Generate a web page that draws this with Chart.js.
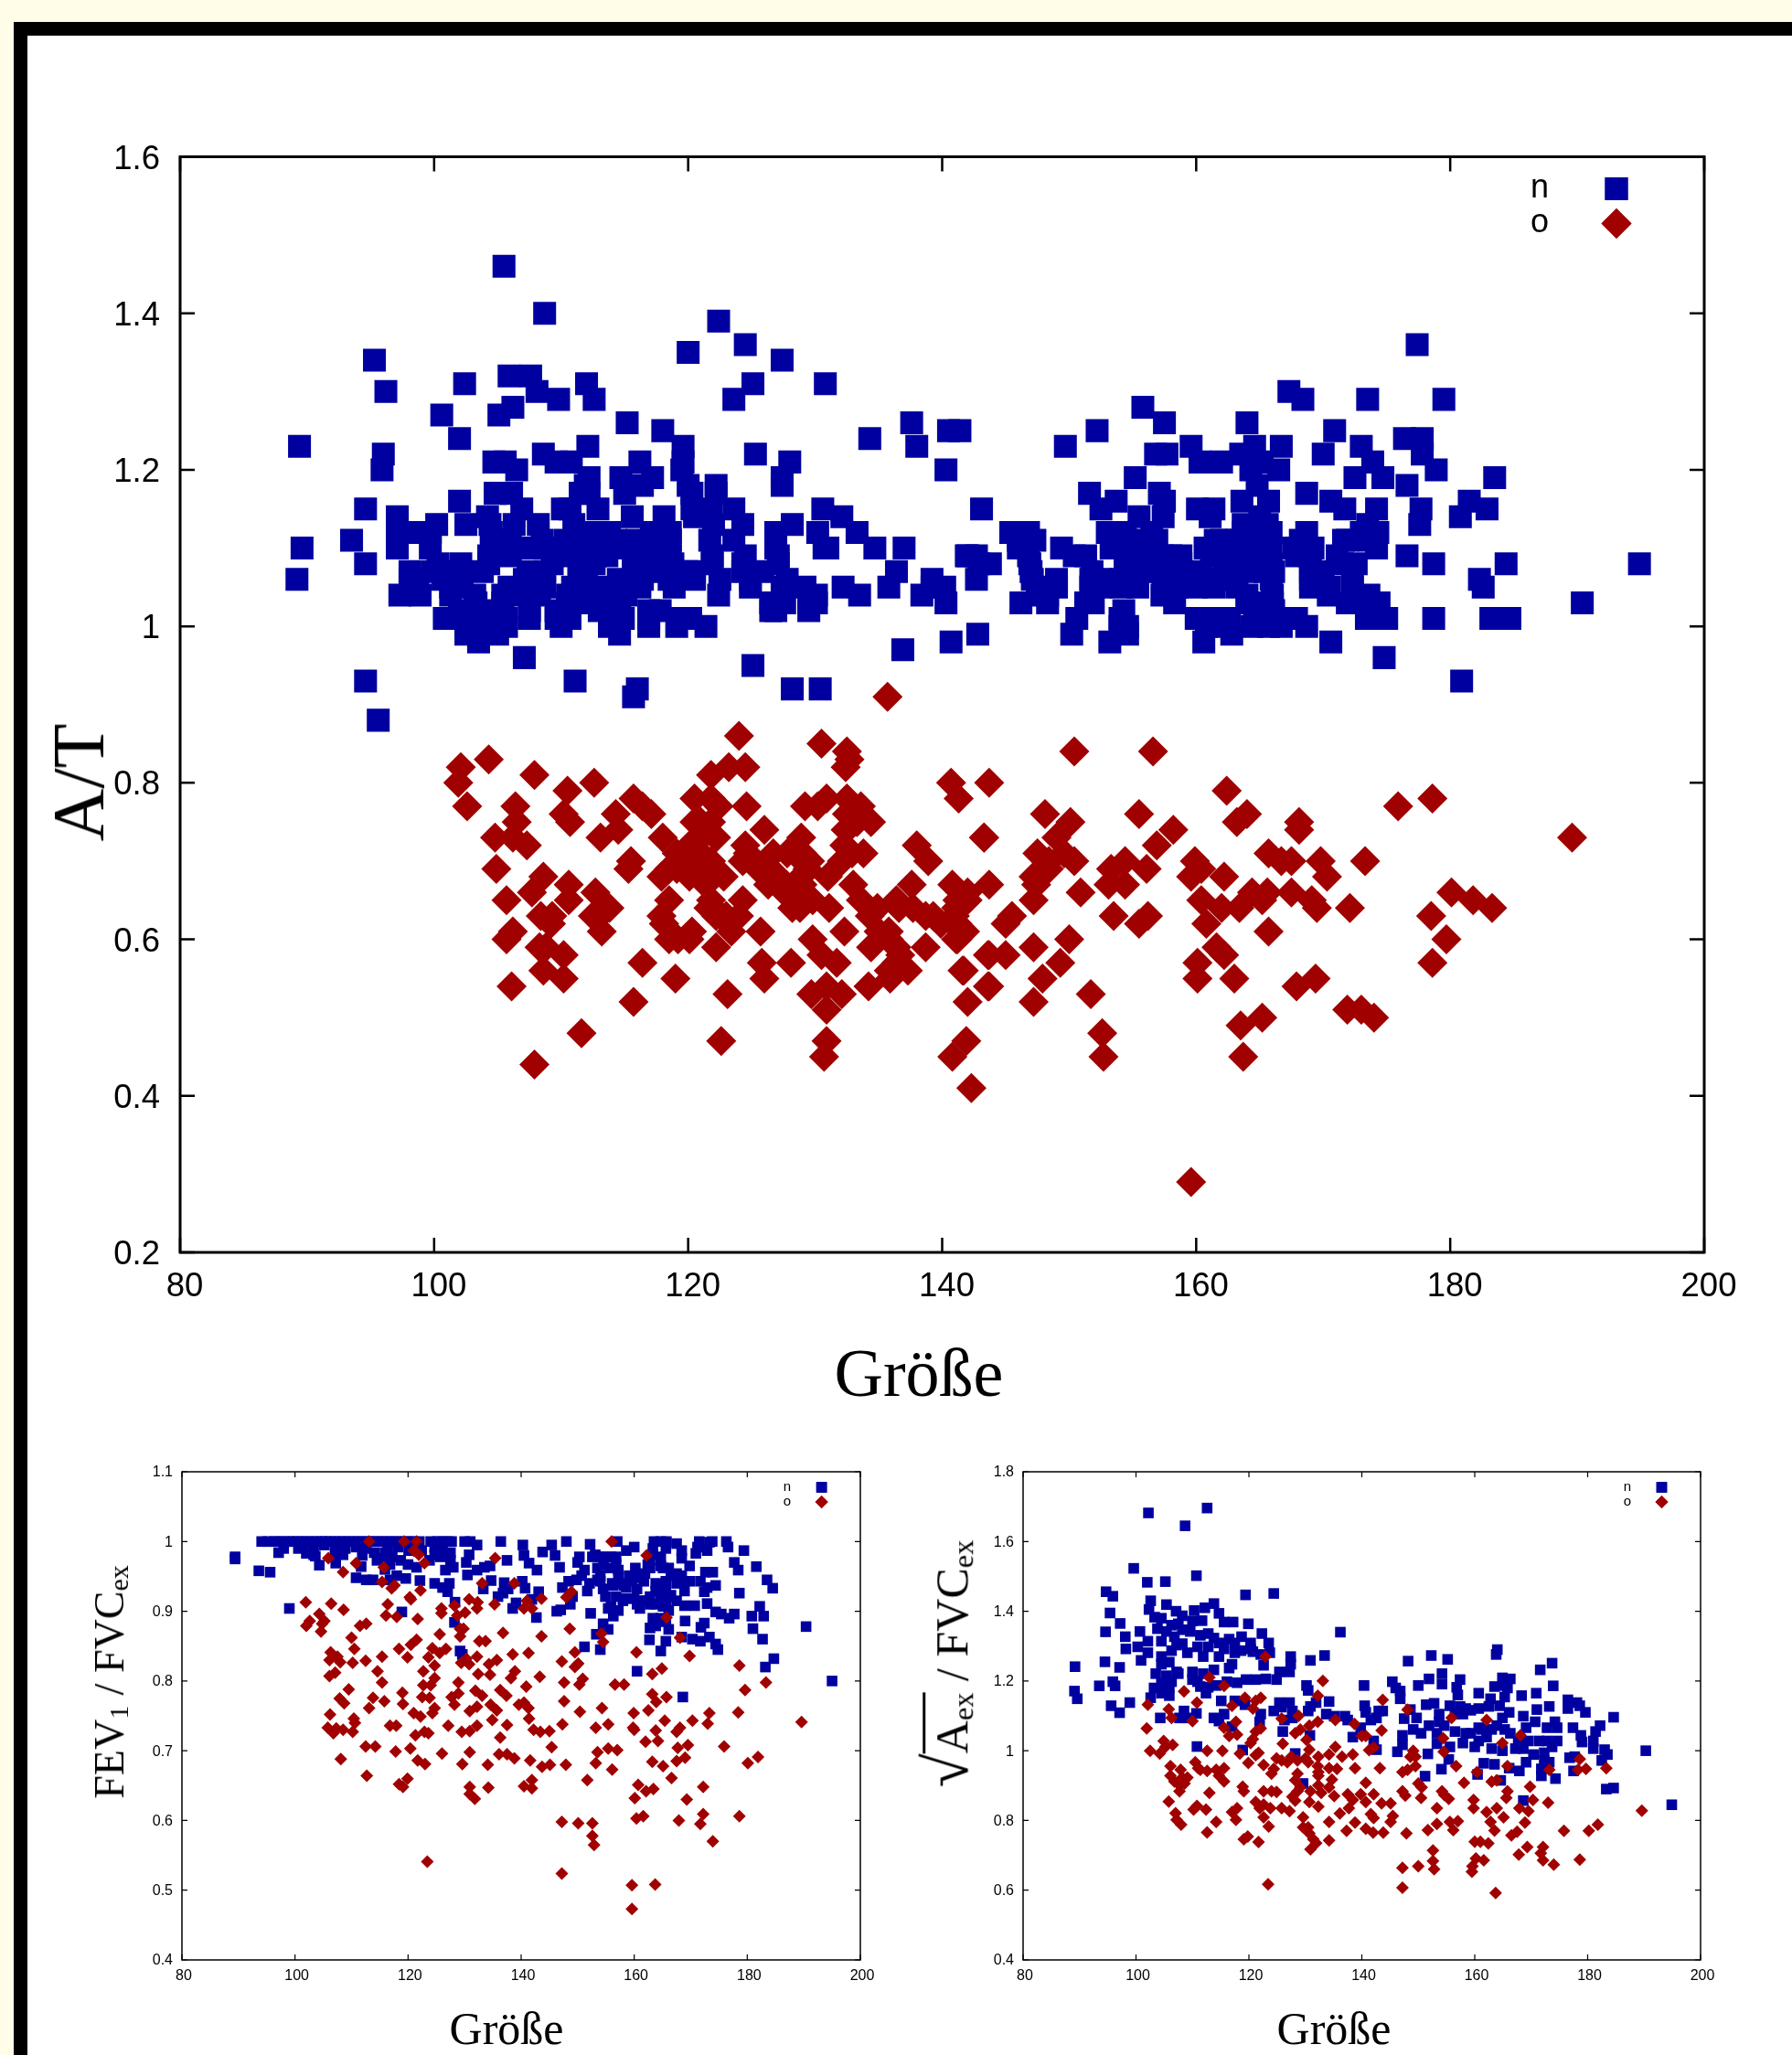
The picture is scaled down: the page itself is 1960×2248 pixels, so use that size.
<!DOCTYPE html>
<html lang="de">
<head>
<meta charset="UTF-8">
<title>Größe</title>
<script src="https://cdn.jsdelivr.net/npm/chart.js"></script>
<style>
    html, body { margin: 0; padding: 0; }
    body { width: 1960px; height: 2248px; position: relative; overflow: hidden; background: #fffce8; }
    .sheet { position: absolute; left: 15px; top: 24px; width: 2000px; height: 2300px; background: #fff;
             border-left: 15px solid #000; border-top: 15px solid #000; box-sizing: border-box; }
    canvas { position: absolute; }
    .ttl { position: absolute; font-family: "Liberation Serif", serif; color: #000; white-space: nowrap;
           transform: translate(-50%, -50%); line-height: 1; }
    .rot { transform: translate(-50%, -50%) rotate(-90deg); }
    .ttl sub { font-size: 65%; vertical-align: baseline; position: relative; top: 0.18em; }
    .radic { font-size: 135%; }
    .root { border-top: 3px solid #000; padding-top: 1px; }
</style>
</head>
<body>
<div class="sheet"></div>
<canvas id="mainChart" style="left:30px;top:40px"></canvas>
<canvas id="fevChart" style="left:140px;top:1560px"></canvas>
<canvas id="aexChart" style="left:1060px;top:1560px"></canvas>

<div class="ttl" style="left:1005px;top:1502px;font-size:74px">Größe</div>
<div class="ttl rot" style="left:86px;top:856px;font-size:80px">A/T</div>
<div class="ttl" style="left:554px;top:2219px;font-size:50px">Größe</div>
<div class="ttl rot" style="left:120px;top:1840px;font-size:46px">FEV<sub>1</sub> / FVC<sub>ex</sub></div>
<div class="ttl" style="left:1459px;top:2219px;font-size:50px">Größe</div>
<div class="ttl rot" style="left:1036px;top:1820px;font-size:50px"><span class="radic">√</span><span class="root">A<sub>ex</sub></span> / FVC<sub>ex</sub></div>

<script>
const xTicks = [80, 100, 120, 140, 160, 180, 200];
const atTicks = [0.2, 0.4, 0.6, 0.8, 1, 1.2, 1.4, 1.6];
const fevTicks = [0.4, 0.5, 0.6, 0.7, 0.8, 0.9, 1, 1.1];
const aexTicks = [0.4, 0.6, 0.8, 1, 1.2, 1.4, 1.6, 1.8];
const seriesNames = ['n', 'o'];

// A/T, series n
const atN = [[105.5,1.46],[108.7,1.40],[122.4,1.39],[124.5,1.36],[120,1.35],[127.4,1.34],[95.3,1.34],[96.2,1.30],[102.4,1.31],[105.9,1.32],[107.6,1.32],[108.1,1.30],[109.8,1.29],[112,1.31],[112.6,1.29],[125.1,1.31],[123.6,1.29],[130.8,1.31],[100.6,1.27],[106.2,1.28],[105.1,1.27],[115.2,1.26],[118,1.25],[137.6,1.26],[134.3,1.24],[140.5,1.25],[141.4,1.25],[138,1.23],[140.3,1.20],[89.4,1.23],[96,1.22],[95.9,1.20],[102,1.24],[104.7,1.21],[105.6,1.21],[106.5,1.20],[108.6,1.22],[109.6,1.21],[110.8,1.21],[112.1,1.23],[112.2,1.19],[116.2,1.21],[119.6,1.23],[119.6,1.21],[119.5,1.20],[125.3,1.22],[128,1.21],[127.4,1.19],[127.4,1.18],[114.7,1.19],[117.2,1.19],[116.4,1.18],[115,1.17],[120,1.18],[122.2,1.18],[120.3,1.17],[111.9,1.18],[111.5,1.17],[104.8,1.17],[106.1,1.17],[102,1.16],[94.6,1.15],[97.1,1.14],
[112.2,1.17],[122.2,1.17],[106.9,1.15],[110.1,1.15],[110.7,1.15],[112.9,1.15],[120.3,1.15],[121.8,1.15],[123.6,1.15],[130.6,1.15],[104.2,1.14],[115.6,1.14],[118.1,1.14],[120.5,1.14],[132.1,1.14],[100.2,1.13],[102.5,1.13],[104.4,1.13],[106.3,1.13],[108.2,1.13],[111,1.13],[122,1.13],[124.3,1.13],[128.2,1.13],[97.1,1.12],[98.8,1.12],[99.7,1.12],[104.5,1.12],[111.1,1.12],[113.8,1.12],[117.1,1.12],[118.6,1.12],[126.9,1.12],[130.2,1.12],[133.3,1.12],[93.5,1.11],[104.5,1.11],[106,1.11],[108.5,1.11],[110.3,1.11],[112.3,1.11],[114.3,1.11],[116,1.11],[118.6,1.11],[121.7,1.11],[123.6,1.11],[89.6,1.10],[97.1,1.10],[99.7,1.10],[126.9,1.10],[130.7,1.10],[131,1.10],[134.7,1.10],[137,1.10],[104.3,1.09],[106,1.09],[109.3,1.09],[110.7,1.09],[112.7,1.09],[113.6,1.09],[115.7,1.09],[118.6,1.09],[121.9,1.09],[124.5,1.09],[127.1,1.09],[142,1.09],[94.6,1.08],[100.3,1.08],[102.1,1.08],[104.3,1.08],[109.3,1.08],[111.4,1.08],[112.6,1.08],[115.7,1.08],[117.9,1.08],[118.8,1.08],[121.9,1.08],[124.3,1.08],[127.1,1.08],[98.1,1.07],[99.9,1.07],[101.9,1.07],[103.8,1.07],[107.4,1.07],[108.7,1.07],[111.4,1.07],[112,1.07],[115.7,1.07],[117.6,1.07],[120.5,1.07],[124.3,1.07],[125.9,1.07],[136.4,1.07],[89.2,1.06],[98.1,1.06],[98.7,1.06],[100.7,1.06],[102.2,1.06],[107.1,1.06],[108.7,1.06],[114.5,1.06],[116.4,1.06],[118.5,1.06],[120.5,1.06],[122.5,1.06],[124.9,1.06],[127.8,1.06],[139.2,1.06],[101.3,1.05],[102.2,1.05],[105.9,1.05],[108.7,1.05],[110.9,1.05],[113.1,1.05],[116.2,1.05],[118.9,1.05],[124.9,1.05],[127.4,1.05],[129.2,1.05],[132.2,1.05],[135.8,1.05],[139.2,1.05],[140.2,1.05],[97.3,1.04],[98.9,1.04],[101.3,1.04],[103.2,1.04],[105.4,1.04],[108.3,1.04],[110.5,1.04],[115.1,1.04],[122.4,1.04],[127.4,1.04],[130.1,1.04],[133.5,1.04],[138.4,1.04],[103.3,1.03],[105.4,1.03],[110.5,1.03],[114.6,1.03],[126.5,1.03],[127.6,1.03],[129.5,1.03],[130.1,1.03],[140.3,1.03],[102,1.02],[105.4,1.02],[107.5,1.02],[109.6,1.02],[110.7,1.02],[113,1.02],[114.6,1.02],[116.9,1.02],[117.8,1.02],[126.5,1.02],[126.9,1.02],[129.5,1.02],[100.8,1.01],[102.1,1.01],[103.9,1.01],[107.5,1.01],[109.6,1.01],[110.7,1.01],[113.8,1.01],[114.9,1.01],[116.9,1.01],[119.3,1.01],[120.2,1.01],[102.5,1.00],[105.7,1.00],[110,1.00],[113.8,1.00],[116.9,1.00],[119.1,1.00],[121.4,1.00],[102.5,0.99],[105,0.99],[114.6,0.99],[103.5,0.98],[140.7,0.98],[142.8,0.99],[107.1,0.96],[136.9,0.97],[125.1,0.95],[94.6,0.93],[111.1,0.93],[116,0.92],[115.7,0.91],[128.2,0.92],[130.4,0.92],[95.6,0.88],
[112.4,1.12],[117.3,1.11],[113.3,1.11],[117.1,1.09],[116.7,1.08],[119.9,1.07],[107.3,1.05],[114.6,1.05],[111.9,1.05],[106.9,1.04],[112,1.04],[113.5,1.04],[112,1.03],[113.2,1.03],[103.6,1.02],[105.7,1.01],[104,1.00],[105,1.10],[107.2,1.10],[108.8,1.10],[110.4,1.10],[112,1.10],[113.6,1.10],[115.2,1.10],[116.8,1.10],[118.4,1.10],
[177.4,1.36],[167.3,1.30],[168.4,1.29],[173.5,1.29],[179.5,1.29],[155.8,1.28],[157.5,1.26],[164,1.26],[152.2,1.25],[170.9,1.25],[149.7,1.23],[159.6,1.23],[156.8,1.22],[157.7,1.22],[170,1.22],[173,1.23],[164.6,1.23],[166.7,1.23],[163.5,1.22],[160.3,1.21],[162,1.21],[165.2,1.21],[164.3,1.20],[166.5,1.20],[178.9,1.20],[177.8,1.22],[176.4,1.24],[177.8,1.24],[173.9,1.21],[155.2,1.19],[172.5,1.19],[174.7,1.19],[183.5,1.19],[176.6,1.18],[164.8,1.18],[151.6,1.17],[153.7,1.16],[157.1,1.17],[157.5,1.16],[168.7,1.17],[170.6,1.16],[152.5,1.15],[160.1,1.15],[161.4,1.15],[163.6,1.16],[165.7,1.16],[171.7,1.15],[174.2,1.15],[177.7,1.15],[181.5,1.16],[182.9,1.15],[143.1,1.15],[155.5,1.14],[157.4,1.14],[161.1,1.14],[165,1.14],[180.8,1.14],[163.7,1.13],[165.6,1.13],[173.5,1.13],[177.6,1.13],[145.4,1.12],[146.8,1.12],[153,1.12],[154.4,1.12],[163.7,1.12],[165.9,1.12],[168.7,1.12],[173,1.12],[174.3,1.12],[146,1.11],[147.3,1.11],[161.5,1.11],[168.2,1.11],[171.6,1.11],[156.9,1.11],[154.5,1.11],[149.4,1.10],[160.7,1.10],[165.9,1.10],[167.7,1.10],[169.2,1.10],[174.2,1.10],[153.3,1.10],[146,1.10],[141.9,1.09],[176.6,1.09],[146.8,1.09],[150.4,1.09],[151.3,1.09],[154.5,1.09],[158.8,1.09],[171.1,1.09],[142.9,1.08],[143.8,1.08],[146.9,1.08],[178.7,1.08],[184.4,1.08],[194.9,1.08],[154.4,1.08],[158.8,1.08],[172.6,1.08],[162.8,1.08],[165.9,1.08],[169,1.08],[147,1.07],[151.8,1.07],[160.4,1.07],[166.1,1.07],[169,1.07],[170,1.07],[182.3,1.06],[142.7,1.06],[147.1,1.06],[149,1.06],[151.7,1.06],[155.4,1.06],[157.4,1.06],[159.6,1.06],[163,1.06],[165.9,1.06],[169,1.06],[172.3,1.06],[147.5,1.05],[149,1.05],[151.7,1.05],[155.4,1.05],[161.4,1.05],[163.2,1.05],[169,1.05],[170.5,1.05],[172.3,1.05],[182.6,1.05],[147.5,1.04],[148.3,1.04],[157.3,1.04],[164,1.04],[166,1.04],[170.4,1.04],[173.6,1.04],[146.2,1.03],[148.3,1.03],[151.3,1.03],[151.9,1.03],[158.3,1.03],[164,1.03],[166,1.03],[171.9,1.03],[174.4,1.03],[190.4,1.03],[154.3,1.02],[166.1,1.02],[150.6,1.01],[154,1.01],[160,1.01],[162.6,1.01],[164.6,1.01],[167.9,1.01],[173.4,1.01],[175,1.01],[178.7,1.01],[183.2,1.01],[184.7,1.01],[154,1.00],[154.6,1.00],[160.8,1.00],[165.7,1.00],[168.7,1.00],[150.2,0.99],[154.6,0.99],[162.8,0.99],[153.2,0.98],[160.6,0.98],[170.6,0.98],[174.8,0.96],[180.9,0.93],
[156.5,1.12],[164.8,1.12],[155.7,1.11],[162,1.11],[163.2,1.11],[164.4,1.11],[165.6,1.11],[171.9,1.11],[173.6,1.11],[142.7,1.09],[155.7,1.09],[157.3,1.09],[158,1.09],[161.2,1.09],[162.8,1.09],[164.4,1.09],[165.7,1.09],[167.9,1.09],[168.9,1.09],[155.7,1.08],[157.3,1.08],[164,1.08],[164.8,1.08],[171.5,1.08],[154.5,1.07],[155.9,1.07],[157.3,1.07],[158.8,1.07],[162.2,1.07],[164,1.07],[165.4,1.07],[152.5,1.06],[154.1,1.06],[157.7,1.06],[161.2,1.06],[162.2,1.06],[163.2,1.06],[152.5,1.05],[154.1,1.05],[158.5,1.05],[160,1.05],[165.2,1.03],[172.7,1.03],[161.4,1.01],[165.7,1.01],[166.7,1.01],[174.2,1.01],[161.6,1.00],[164.4,1.00],[166.7,1.00]];

// A/T, series o
const atO = [[124,0.86],[130.5,0.85],[104.3,0.83],[102.1,0.82],[101.9,0.80],[102.6,0.77],[107.9,0.81],[110.5,0.79],[112.6,0.80],[106.4,0.77],[106.5,0.75],[104.8,0.73],[106.2,0.73],[107.3,0.72],[110.2,0.76],[110.7,0.75],[115.7,0.78],[117.1,0.76],[116.4,0.77],[114.3,0.76],[114.5,0.74],[113.1,0.73],[121.8,0.81],[123.2,0.82],[124.5,0.82],[120.5,0.78],[121.8,0.78],[122.4,0.77],[124.6,0.77],[132.5,0.84],[132.7,0.83],[132.4,0.82],[129.2,0.77],[130.2,0.77],[130.9,0.78],[132.5,0.78],[133.6,0.77],[134.4,0.75],[132.5,0.76],[140.7,0.80],[141.3,0.78],[126,0.74],[128.9,0.73],[121,0.75],[121,0.73],[122.2,0.73],[118,0.73],[124.5,0.72],[132.4,0.74],[138,0.72],[138.9,0.70],[143.3,0.73],[104.9,0.69],[115.5,0.70],[115.3,0.69],[108.6,0.68],[107.7,0.66],[110.6,0.67],[110.6,0.65],[112.7,0.66],[113.8,0.64],[112.5,0.63],[113.2,0.61],[105.7,0.65],[106.2,0.61],[105.7,0.60],[117.9,0.68],[119.1,0.69],[120.1,0.68],[121.4,0.69],[122.8,0.68],[121.4,0.67],[124.3,0.70],[125.5,0.69],[127.1,0.68],[128.4,0.71],[129.4,0.69],[128.9,0.68],[127.6,0.66],[131,0.68],[128.2,0.64],[129.8,0.65],[131.1,0.64],[128.8,0.64],[133,0.67],[133.6,0.65],[134.3,0.63],[136.4,0.65],[137.6,0.67],[137.7,0.64],[139.3,0.63],[140.8,0.67],[142,0.66],[141,0.63],[141.2,0.60],[141.8,0.61],[118.5,0.65],[117.9,0.63],[118.1,0.62],[119.2,0.60],[120.3,0.61],[124.3,0.65],[121.6,0.64],[123,0.63],[123.4,0.61],[125.7,0.61],[122.2,0.59],[129.8,0.60],[130.5,0.58],[131.7,0.57],[132.3,0.61],[134.4,0.59],[135.8,0.61],[136.4,0.59],[137.3,0.56],[138.7,0.59],[135.9,0.55],[134.2,0.54],[132.1,0.53],[130.9,0.54],[129.7,0.53],[130.9,0.51],[141.6,0.56],[143.6,0.58],[142,0.52],[143.6,0.54],[125.8,0.57],[128.1,0.57],[126,0.55],[123.1,0.53],[116.4,0.57],[119,0.55],[115.7,0.52],[111.6,0.48],[122.6,0.47],[107.9,0.44],[130.9,0.47],[130.7,0.45],[141.9,0.47],[140.8,0.45],[142.3,0.41],[108.6,0.56],[110.2,0.55],[106.1,0.54],[110.2,0.58],[108.3,0.59],[109.2,0.62],[108.4,0.63],[135.7,0.91],[141.1,0.64],[141.5,0.61],[141.1,0.60],
[120.5,0.75],[120.1,0.72],[119.1,0.71],[121.8,0.75],[120.1,0.70],[121,0.71],[118.5,0.69],[121.8,0.70],[124.7,0.71],[125.7,0.69],[126.3,0.67],[127.6,0.67],[128.6,0.66],[127.8,0.71],[129,0.71],[129.6,0.70],[129,0.67],[126.7,0.71],[132.3,0.72],[133.3,0.75],[132.9,0.71],[132.1,0.70],[133.8,0.71],[132.5,0.74],[133.3,0.76],[134.9,0.64],[136.6,0.64],[138.7,0.63],[139.9,0.62],[141.2,0.62],[135.8,0.60],[136.7,0.58],[135,0.61],[136.4,0.57],[135.8,0.56],[121.8,0.65],[122.6,0.63],[122.2,0.63],[124,0.63],[118.1,0.62],[120.1,0.60],[118.5,0.60],[109.3,0.63],[108.8,0.59],[113.5,0.64],[113,0.63],[142,0.65],[141.2,0.65],
[150.4,0.84],[156.6,0.84],[143.7,0.80],[162.4,0.79],[164,0.76],[163.2,0.75],[175.9,0.77],[178.6,0.78],[148.1,0.76],[150.1,0.75],[155.5,0.76],[158.2,0.74],[156.9,0.72],[168.1,0.75],[168.1,0.74],[189.6,0.73],[143.3,0.73],[149,0.73],[147.5,0.71],[150.4,0.70],[148.4,0.70],[149.6,0.71],[147.2,0.68],[148.4,0.69],[147.4,0.67],[147.2,0.65],[150.9,0.66],[143.7,0.67],[153.3,0.69],[154.4,0.70],[154.4,0.67],[156.1,0.69],[153.1,0.67],[153.5,0.63],[156.2,0.63],[155.5,0.62],[159.9,0.70],[160.4,0.69],[159.6,0.68],[162.2,0.68],[160.4,0.65],[160.8,0.62],[162,0.64],[163.4,0.64],[164.4,0.66],[165.6,0.66],[165.2,0.65],[165.7,0.61],[167.5,0.66],[169.1,0.65],[169.5,0.64],[165.7,0.71],[166.7,0.70],[167.5,0.70],[169.8,0.70],[170.3,0.68],[173.3,0.70],[172.1,0.64],[180.1,0.66],[181.8,0.65],[183.3,0.64],[178.5,0.63],[179.7,0.60],[178.6,0.57],[161.6,0.59],[162.2,0.58],[160.1,0.57],[160.1,0.55],[163,0.55],[150,0.60],[147.2,0.59],[149.3,0.57],[147.9,0.55],[147.2,0.52],[143.7,0.54],[145,0.58],[143.7,0.58],[141.7,0.56],[151.7,0.53],[145,0.62],[145.5,0.63],[152.6,0.48],[152.7,0.45],[163.5,0.49],[165.2,0.50],[163.7,0.45],[167.9,0.54],[169.4,0.55],[171.9,0.51],[173,0.51],[174,0.50],[159.6,0.29]];

// FEV1 / FVCex, series n
const fevN = [[94.1,1],[95.2,1],[96.3,1],[97.1,1],[98,1],[98.9,1],[99.7,1],[100.5,1],[101.3,1],[102.2,1],[103,1],[103.9,1],[104.7,1],[105.4,1],[106.2,1],[107,1],[107.9,1],[108.6,1],[109.5,1],[110.3,1],[111.2,1],[112,1],[112.9,1],[113.8,1],[114.6,1],[115.5,1],[116.3,1],[117.2,1],[118,1],[119,1],[120,1],[120.9,1],[122,1],[124,1],[125.2,1],[126,1],[127,1],[127.7,1],[130,1],[131,1],[136.4,1],[140.3,0.995],[145.4,0.995],[148,1],[152.2,0.996],[157,1],[163.5,1],[164.7,1],[165.7,1],[167.5,0.997],[171.5,1],[173.8,1],[176.3,1],
[89.4,0.978],[89.4,0.975],[93.6,0.958],[95.6,0.956],[99,0.904],[97.1,0.984],[98,0.99],[100.6,0.99],[102,0.983],[104.3,0.966],[103.6,0.979],[107.2,0.969],[108.5,0.981],[110.8,0.948],[111.7,0.964],[111.9,0.98],[112.6,0.945],[113.8,0.945],[114.5,0.973],[115.9,0.984],[115.4,0.976],[117.2,0.978],[115.9,0.96],[118,0.951],[119.6,0.947],[116.8,0.945],[120,0.967],[121.5,0.963],[122.1,0.944],[124.7,0.94],[123.8,0.973],[124.7,0.981],[126.6,0.959],[128,0.963],[127.3,0.94],[126.1,0.934],[127,0.928],[128.3,0.913],[128.2,0.884],[129.2,0.843],[129.6,0.838],[118.9,0.899],[130.5,0.952],[130.8,0.981],[130.3,0.97],[132.2,0.995],[132.2,0.959],[133.5,0.963],[134.5,0.965],[134.7,0.944],[133.3,0.932],[135.9,0.921],[137,0.941],[137.7,0.932],[136.8,0.926],[137.5,0.973],[138.5,0.904],[139.1,0.912],[140.5,0.98],[140.2,0.943],[140.7,0.933],[141.4,0.969],[142.8,0.959],[141.9,0.917],[142.7,0.891],[143.1,0.928],[143.8,0.985],[146,0.98],[146.8,0.963],[147.3,0.934],[147,0.902],[146.3,0.9],[148.7,0.91],[149.1,0.921],[150,0.97],[150.3,0.978],[148.4,0.943],[149.8,0.945],[151.2,0.849],[151.2,0.959],[151.7,0.929],[152.3,0.897],[152.6,0.978],[153.1,0.981],[153.3,0.867],[154,0.845],[154.5,0.882],[155.4,0.874],[153.5,0.962],[154,0.943],[154.9,0.978],[155.4,0.962],[156.1,0.94],[156.8,0.967],[157.2,0.951],[154.9,0.921],[155.4,0.904],[156.3,0.893],[157.7,0.94],[158,0.915],[157.2,0.901],[158.6,0.987],[160,0.992],[160.2,0.962],[160.5,0.932],[160.5,0.91],[161,0.904],[158.6,0.934],[161.7,0.943],[162.8,0.962],[163.3,0.99],[162.8,0.973],[161.9,0.915],[162.8,0.921],[163.3,0.89],[162.8,0.876],[162.7,0.859],[164.7,0.843],[165.6,0.857],[166.1,0.874],[165.6,0.885],[165.6,0.915],[165.1,0.929],[165.6,0.943],[165.1,0.962],[164.7,0.978],[165.6,0.99],[166.1,0.921],[167.5,0.915],[166.5,0.951],[168.4,0.943],[168.9,0.929],[168.9,0.908],[169,0.886],[168.4,0.987],[168.4,0.976],[169.8,0.965],[168.4,0.863],[168.6,0.777],[160.5,0.814],[170.3,0.86],[171.7,0.857],[171.8,0.877],[172.4,0.883],[173.3,0.863],[174.4,0.853],[174.8,0.845],[170.7,0.908],[171.2,0.992],[170.9,0.983],[172.9,0.987],[173.3,0.999],[172.6,0.956],[173.9,0.956],[172.9,0.934],[174.4,0.937],[172.4,0.928],[172.9,0.911],[174.4,0.899],[175.4,0.896],[176.8,0.89],[177.7,0.896],[176.6,0.992],[177.7,0.97],[178.4,0.959],[178.6,0.926],[179.4,0.987],[181.6,0.964],[180.8,0.893],[181,0.875],[182.2,0.907],[182.9,0.893],[182.7,0.86],[183.2,0.82],[184.7,0.832],[183.5,0.945],[184.5,0.933],[190.4,0.878],[195,0.8],
[154,0.951],[158.2,0.937],[161.9,0.954],[160.5,0.948],[163.8,0.94],[163.8,0.929],[164.7,0.918],[165.1,0.907],[163.8,0.91],[166.5,0.923],[167.5,0.94],[169.8,0.943],[171.7,0.943],[156.8,0.921],[156.3,0.937],[158.2,0.918],[160,0.918],[161.4,0.915],[154.5,0.932],[153.5,0.945],[152.1,0.94],[150.7,0.951],[162.4,0.967],[165.6,0.934],[165.1,0.923],[166.1,0.901],[164.7,0.89],[163.8,0.879],[166.1,0.962],[167.5,0.954],[159.1,0.951],[159.6,0.943],[162.8,0.91],[155.9,0.907],[154,0.978],[155.9,0.978],[156.8,0.978],[154.6,0.967],[157.2,0.959],[163.3,0.981],[164.7,0.965],[168.4,0.951],
[101.5,0.992],[103.3,0.99],[105.2,0.995],[107.1,0.99],[108.9,0.99],[110.8,0.992],[112.6,0.99],[114,0.984],[116.4,0.99],[118.2,0.992],[120.1,0.987],[122.4,0.987],[124.7,0.992],[126.1,0.987],[127.5,0.984],[125.7,0.978],[127.5,0.973],[107.1,0.981],[103.3,0.981],[118.7,0.973],[116.8,0.967]];

// FEV1 / FVCex, series o
const fevO = [[113.1,1],[119.3,1],[121.5,1],[156,1],[105.9,0.976],[115.7,0.963],[110.8,0.969],[108.5,0.956],[121,0.987],[121.9,0.981],[122.9,0.969],[135.4,0.976],[162.2,0.98],[115.4,0.942],[117.6,0.937],[117.1,0.933],[122.2,0.93],[133.1,0.94],[138.8,0.94],[101.9,0.913],[106.4,0.911],[104.3,0.896],[108.6,0.902],[116.4,0.91],[120.3,0.92],[120.5,0.917],[130.8,0.917],[132.3,0.913],[128.2,0.908],[135.3,0.91],[143.6,0.918],[141,0.915],[140.5,0.904],[141.9,0.904],[148,0.92],[148.9,0.928],[125.9,0.904],[132.2,0.904],[125.9,0.897],[130.1,0.898],[128.7,0.894],[116.1,0.894],[118,0.892],[121.7,0.889],[105.2,0.886],[102,0.879],[102.6,0.886],[104.8,0.882],[104.6,0.871],[111.5,0.879],[112.6,0.882],[165.7,0.891],[129.2,0.875],[129.8,0.875],[125.6,0.867],[129.2,0.864],[148.6,0.875],[154.2,0.868],[143.6,0.864],[136.8,0.869],[132.6,0.857],[133.7,0.857],[110,0.862],[168.1,0.862],[154.5,0.856],[121.5,0.859],[120.5,0.852],[124.3,0.847],[110.5,0.846],[118.4,0.846],[126.7,0.846],[125.6,0.84],[123.6,0.834],[141.3,0.84],[138.5,0.838],[149.5,0.841],[160.4,0.841],[169.8,0.836],[106.3,0.841],[107.5,0.835],[106.1,0.83],[108,0.827],[115.4,0.835],[119.9,0.834],[110.2,0.826],[112.5,0.829],[130.3,0.832],[132.2,0.835],[129.4,0.826],[130.8,0.824],[135.7,0.83],[134.3,0.824],[147.2,0.828],[124.7,0.822],[150.1,0.825],[149.5,0.82],[178.6,0.822],[164.9,0.818],[163.2,0.81],[122.7,0.814],[114.6,0.814],[132.4,0.81],[134.5,0.809],[138.9,0.814],[107.1,0.812],[106.1,0.807],[143.3,0.806],[138.2,0.804],[150.9,0.803],[124.7,0.804],[115.4,0.798],[128.9,0.798],[147.6,0.798],[183.3,0.798],[150.3,0.795],[156.6,0.795],[158.2,0.795],[140.9,0.792],[122.7,0.794],[124,0.794],[109.5,0.788],[179.6,0.787],[136.3,0.787],[137.4,0.779],[131.9,0.786],[119,0.783],[128.9,0.782],[163.2,0.781],[133.1,0.779],[122.5,0.777],[127.7,0.777],[123.8,0.776],[107.9,0.775],[113.8,0.776],[165.7,0.777],[163.9,0.77],[108.7,0.768],[147.6,0.771],[115.8,0.771],[119.1,0.767],[128.2,0.766],[140.5,0.769],[139.6,0.766],[132.2,0.763],[134.6,0.766],[154.3,0.761],[113.1,0.761],[162.5,0.758],[135.7,0.758],[141.3,0.761],[130.9,0.757],[124.7,0.761],[121,0.754],[150.4,0.756],[159.9,0.754],[173.3,0.754],[178.4,0.755],[124.3,0.754],[106.2,0.752],[122.2,0.749],[141.4,0.746],[110.4,0.746],[134.9,0.744],[170.3,0.743],[165.4,0.743],[189.6,0.741],[147.3,0.738],[110.6,0.74],[155.4,0.738],[173,0.739],[105.8,0.733],[116.8,0.736],[117.9,0.736],[127.1,0.736],[132.2,0.736],[137.5,0.737],[153.2,0.733],[159.8,0.733],[160,0.73],[107.3,0.732],[108.5,0.73],[110.2,0.727],[106.8,0.725],[142.2,0.73],[145,0.728],[143.4,0.727],[163.8,0.729],[168.1,0.733],[167.5,0.727],[130.9,0.728],[129.5,0.727],[122.9,0.727],[123.6,0.725],[121.3,0.722],[162,0.713],[164.2,0.714],[136.3,0.719],[112.5,0.706],[114.2,0.706],[145.4,0.705],[175.9,0.706],[169.5,0.708],[167.7,0.704],[120.4,0.703],[155.4,0.703],[157,0.701],[153.5,0.698],[130.9,0.698],[117.8,0.699],[126,0.696],[136.1,0.695],[137.5,0.695],[138.8,0.689],[108.1,0.688],[169,0.69],[181.9,0.691],[167.5,0.685],[121.7,0.686],[141.6,0.686],[180.1,0.682],[163.2,0.684],[153.2,0.682],[129.6,0.681],[123,0.681],[134.1,0.68],[147.9,0.68],[145.1,0.68],[143.7,0.677],[165.1,0.678],[156.1,0.673],[166.6,0.661],[112.7,0.664],[151.7,0.658],[119.9,0.66],[160.7,0.651],[141.9,0.658],[118.4,0.652],[119.1,0.648],[130.9,0.648],[134.2,0.647],[140.5,0.649],[141.9,0.646],[163.4,0.645],[162.1,0.642],[172.2,0.648],[130.9,0.638],[131.8,0.631],[160.1,0.632],[169.3,0.63],[172.2,0.609],[178.6,0.606],[161.6,0.606],[160.4,0.603],[147.2,0.598],[150.1,0.596],[152.6,0.596],[167.9,0.6],[171.7,0.595],[152.6,0.578],[152.9,0.565],[173.9,0.57],[123.4,0.541],[147.2,0.524],[159.6,0.507],[163.7,0.508],[159.6,0.473]];

// sqrt(Aex) / FVCex, series n
const aexN = [[102.2,1.682],[112.6,1.696],[108.7,1.645],[99.6,1.523],[102,1.483],[105.2,1.485],[110.7,1.502],[94.7,1.456],[95.9,1.443],[119.4,1.447],[124.4,1.451],[95.4,1.395],[102.6,1.43],[102.3,1.405],[105.4,1.419],[113.8,1.422],[112.2,1.41],[110.3,1.402],[103.3,1.383],[104.5,1.38],[114.7,1.394],[107.1,1.4],[108.2,1.387],[97.2,1.365],[100.7,1.342],[94.6,1.341],[103.8,1.35],[106.3,1.36],[107.5,1.364],[110,1.372],[111.7,1.373],[115.6,1.369],[117.2,1.369],[119.9,1.364],[122.3,1.336],[136.2,1.34],[98.1,1.327],[102.1,1.314],[100.3,1.298],[98.2,1.292],[106.8,1.327],[109.6,1.342],[111.4,1.331],[113.8,1.323],[116.5,1.32],[118.7,1.327],[120.3,1.309],[123.5,1.309],[108.2,1.307],[110.9,1.298],[114.7,1.309],[115.6,1.292],[104.5,1.27],[102.1,1.281],[100.9,1.259],[106.3,1.287],[109.1,1.281],[111.9,1.27],[114.7,1.27],[117.5,1.281],[118.6,1.287],[120.7,1.284],[122.1,1.276],[123.7,1.281],[127.4,1.27],[130.9,1.259],[133.4,1.273],[104.5,1.248],[94.5,1.255],[97.1,1.239],[105.9,1.254],[113.8,1.232],[117,1.248],[116.5,1.237],[122.6,1.245],[127.4,1.248],[89.2,1.241],[103.5,1.221],[107.5,1.221],[110,1.226],[111.9,1.221],[127.2,1.226],[125.4,1.226],[95.9,1.198],[93.5,1.186],[96.3,1.186],[89.1,1.171],[89.6,1.149],[104.5,1.193],[106.3,1.198],[110,1.204],[116.1,1.198],[117.9,1.195],[119.5,1.204],[121.2,1.204],[123,1.206],[124.9,1.204],[103.2,1.18],[105.9,1.182],[111.4,1.184],[112.8,1.182],[112.4,1.165],[102.6,1.152],[105.9,1.158],[95.6,1.129],[97.1,1.109],[98.9,1.138],[104.3,1.094],[115.1,1.143],[117.5,1.143],[119.3,1.132],[110.7,1.107],[108.5,1.114],[107.7,1.094],[109.1,1.094],[113.8,1.094],[115.6,1.105],[114.7,1.085],[117,1.069],[122.1,1.105],[121.9,1.083],[124.4,1.114],[125.4,1.138],[127.2,1.138],[125.8,1.125],[127.7,1.114],[126.3,1.088],[127.7,1.094],[126,1.055],[130.9,1.127],[130.5,1.114],[131.9,1.138],[130.2,1.187],[130.5,1.173],[134.2,1.141],[133.7,1.105],[135.1,1.099],[137,1.099],[137.5,1.088],[130.8,1.044],[110.8,1.012],[118.9,1.002],[128.2,0.992],[129.6,0.906],[138.4,1.039],[139.8,1.066],[140.4,1.187],[140.5,1.129],[140.7,1.11],[141.6,1.088],[143,1.114],[143.7,1.114],[142.6,1.094],[142.1,1.028],[142.6,1.003],[145.4,1.198],[146,1.18],[146.8,1.171],[146.8,1.149],[148.2,1.257],[150,1.187],[151.9,1.206],[152.3,1.273],[155.2,1.262],[154.2,1.221],[154.2,1.191],[157.4,1.204],[156.8,1.182],[157,1.16],[148.6,1.118],[147.5,1.092],[149.7,1.094],[151.4,1.132],[152.8,1.136],[155.6,1.129],[153.7,1.105],[147.2,1.044],[147.2,1.017],[146.3,0.997],[149.1,1.061],[150.5,1.05],[151.9,1.072],[153.3,1.05],[154.6,1.072],[151.7,0.991],[153.3,1.02],[155.6,1.011],[155.4,0.975],[154.1,0.947],[151.2,0.927],[157.4,1.127],[157.9,1.105],[156.5,1.055],[158.4,1.05],[157.9,1.022],[160.7,1.165],[162.8,1.149],[163.5,1.184],[163.8,1.276],[164,1.29],[164.9,1.209],[166.3,1.206],[165.3,1.187],[165.3,1.154],[165.8,1.18],[168.3,1.158],[159.3,1.116],[160.7,1.121],[162.5,1.127],[164.4,1.129],[166.1,1.11],[160.7,1.066],[161.2,1.061],[160.7,1.028],[160,1.011],[163.9,1.072],[165.3,1.061],[166.3,1.05],[163,1.006],[161.6,0.964],[163.5,0.961],[164.9,1],[167.2,1.006],[166.1,0.95],[164.6,0.915],[160.5,0.932],[167.9,0.942],[168.6,1.099],[169.1,1.066],[169.5,1.028],[170.7,1.083],[171,1.118],[170.9,1.165],[171.6,1.232],[173.7,1.251],[173.9,1.186],[173.2,1.127],[168.6,1.006],[170.4,0.989],[169.1,0.967],[172.3,0.994],[172.8,1.066],[172.8,1.028],[174.2,1.083],[174.6,1.066],[174.6,1.028],[173.7,1.011],[171.8,0.948],[171.8,0.928],[173.2,0.967],[174.3,0.92],[168.6,0.857],[176.5,1.146],[176.5,1.121],[178.1,1.138],[178.6,1.129],[179.6,1.11],[177.4,1.066],[178.8,1.044],[179,1.025],[176.8,0.98],[177.7,0.983],[177.5,0.942],[181,1.028],[181,1.006],[181.4,1.055],[182.2,1.072],[183,1.003],[183.5,0.989],[182.5,0.972],[183.3,0.89],[184.6,0.893],[184.6,1.096],[190.3,1],[194.9,0.845],
[105.4,1.342],[108.2,1.347],[112.8,1.336],[104.5,1.314],[107.2,1.303],[112.8,1.298],[117.5,1.309],[120.3,1.292],[107.2,1.226],[105.4,1.215],[110.9,1.198],[114.2,1.187],[105.4,1.171],[104.5,1.165],[153.7,1.083],[158.4,1.121],[162.1,1.039],[167.7,1.028],[171.4,1.028],[164.9,1.094],[163,1.061],[172.3,0.972],[156.5,1.105],[159.3,1.05]];

// sqrt(Aex) / FVCex, series o
const aexO = [[122.9,1.27],[113,1.21],[133.1,1.2],[115.6,1.186],[108.5,1.17],[132.2,1.158],[119.3,1.152],[122.1,1.152],[121.2,1.143],[120.7,1.121],[110.8,1.138],[102.1,1.132],[143.7,1.146],[148.1,1.118],[105.8,1.119],[117,1.129],[155.9,1.094],[162.1,1.088],[125.8,1.092],[128.8,1.1],[106.3,1.094],[110,1.085],[117.7,1.083],[135.3,1.088],[132.2,1.083],[138.7,1.077],[101.9,1.064],[115.6,1.066],[122.1,1.064],[143.5,1.058],[121.2,1.055],[117.9,1.046],[128.2,1.05],[129.1,1.061],[130.7,1.072],[116.5,1.042],[120.7,1.033],[120.3,1.022],[130.2,1.031],[140.7,1.042],[140,1.042],[168.1,1.044],[154.4,1.036],[104.9,1.028],[164.9,1.022],[106.5,1.017],[105.2,1.011],[126,1.02],[142.1,1.009],[141.3,1.002],[135.3,1.011],[130.7,1.003],[102.5,1],[112.6,1],[115.3,1],[154.5,0.997],[104.2,0.992],[121.7,0.994],[118.4,0.992],[121.2,0.987],[149.1,1],[148.6,0.983],[149.5,0.983],[178.6,0.976],[134.2,0.989],[132.3,0.983],[136.5,0.983],[138.4,0.989],[130,0.978],[124.9,0.978],[127.5,0.983],[128.6,0.972],[126.8,0.967],[125.8,0.972],[130.5,0.967],[119.9,0.965],[122.6,0.959],[110.5,0.967],[111,0.95],[106.1,0.956],[156.7,0.956],[165.8,0.956],[115.6,0.95],[132.2,0.956],[149.5,0.956],[160.4,0.939],[173.2,0.945],[178.3,0.945],[179.7,0.948],[183.3,0.95],[138.8,0.95],[143.2,0.95],[135.6,0.948],[124.4,0.948],[148.1,0.945],[147.2,0.939],[107.9,0.945],[111.4,0.945],[112.6,0.942],[114.2,0.945],[124,0.934],[134.2,0.95],[132.3,0.939],[132.3,0.928],[114.7,0.928],[128.6,0.934],[106.1,0.928],[108.2,0.923],[109.1,0.923],[106.8,0.912],[115.6,0.912],[128.2,0.915],[134.7,0.917],[140.7,0.908],[158.1,0.908],[163,0.911],[163.9,0.915],[150,0.906],[169.8,0.897],[107.7,0.901],[108.6,0.906],[150.6,0.895],[118.9,0.897],[132.3,0.901],[134.2,0.895],[129.1,0.895],[107.7,0.884],[113,0.879],[119.1,0.884],[122.6,0.884],[124,0.884],[124.9,0.882],[128.6,0.884],[130.9,0.884],[154.2,0.884],[165.8,0.884],[147.2,0.884],[132.8,0.879],[137.5,0.875],[139.8,0.875],[142.1,0.875],[147.7,0.871],[135.1,0.87],[154.6,0.873],[127.7,0.868],[150.5,0.865],[155.4,0.862],[165.6,0.865],[138.4,0.859],[159.8,0.859],[170.3,0.859],[130.7,0.853],[140.7,0.853],[105.8,0.854],[121.2,0.853],[173,0.851],[128.2,0.857],[145.1,0.849],[143.5,0.849],[122.6,0.846],[132.3,0.84],[110.8,0.842],[159.8,0.835],[153.3,0.835],[112.4,0.831],[117.9,0.835],[117,0.824],[110.2,0.831],[123.8,0.835],[125.8,0.835],[127.2,0.827],[121.9,0.835],[137.7,0.835],[136.1,0.82],[163.9,0.835],[162.1,0.824],[169.5,0.827],[189.6,0.828],[167.9,0.835],[107,0.821],[141.6,0.818],[145.5,0.813],[165.1,0.809],[122.6,0.809],[142.1,0.807],[107.2,0.802],[117.7,0.802],[129.6,0.809],[134.2,0.796],[138.8,0.794],[145.1,0.796],[114.2,0.796],[155.6,0.796],[157,0.798],[168.9,0.794],[162.8,0.796],[181.8,0.788],[108,0.788],[153.3,0.79],[130.5,0.78],[123.5,0.783],[129.6,0.78],[156.2,0.772],[151.7,0.772],[180.2,0.77],[175.8,0.77],[140.7,0.776],[137.3,0.77],[142,0.765],[143.8,0.765],[147.9,0.763],[163.5,0.771],[167.5,0.768],[166.5,0.757],[112.6,0.766],[130.7,0.763],[131.4,0.746],[134.2,0.743],[119.8,0.754],[119.1,0.746],[121.7,0.738],[131.9,0.735],[162.4,0.734],[160,0.739],[161,0.739],[172.1,0.724],[169.3,0.724],[152.6,0.714],[130.9,0.717],[171.7,0.706],[167.8,0.702],[172.1,0.686],[152.6,0.684],[160.2,0.691],[161.6,0.686],[178.6,0.688],[174,0.673],[150,0.669],[147.2,0.664],[159.6,0.669],[152.8,0.66],[159.5,0.653],[147.2,0.607],[123.4,0.617],[163.7,0.592]];

const blue = '#0000a0';
const red = '#a00000';

// frame, inward ticks on all four sides, and the gnuplot style key
const frameAndKey = {
    id: 'frameAndKey',
    afterDatasetsDraw(chart, args, opts) {
        const c = chart.ctx, a = chart.chartArea;
        const xs = chart.scales.x, ys = chart.scales.y;
        c.save();
        c.strokeStyle = '#000';
        c.lineWidth = opts.line;
        c.strokeRect(a.left, a.top, a.right - a.left, a.bottom - a.top);
        c.lineWidth = opts.tickWidth;
        c.beginPath();
        xs.ticks.forEach(t => {
            const p = xs.getPixelForValue(t.value);
            c.moveTo(p, a.top); c.lineTo(p, a.top + opts.tick);
            c.moveTo(p, a.bottom); c.lineTo(p, a.bottom - opts.tick);
        });
        ys.ticks.forEach(t => {
            const p = ys.getPixelForValue(t.value);
            c.moveTo(a.left, p); c.lineTo(a.left + opts.tick, p);
            c.moveTo(a.right, p); c.lineTo(a.right - opts.tick, p);
        });
        c.stroke();
        // key
        c.fillStyle = '#000';
        c.font = opts.keyFont + 'px "Liberation Sans", Arial, sans-serif';
        c.textAlign = 'center';
        c.textBaseline = 'middle';
        const rows = [a.top + opts.keyY[0], a.top + opts.keyY[1]];
        c.fillText(seriesNames[0], a.left + opts.keyTextX, rows[0]);
        c.fillText(seriesNames[1], a.left + opts.keyTextX, rows[1]);
        const ds = chart.data.datasets;
        [0, 1].forEach(i => {
            c.fillStyle = ds[i].backgroundColor;
            Chart.helpers.drawPoint(c, { pointStyle: ds[i].pointStyle, radius: ds[i].pointRadius, borderWidth: 0, rotation: 0 },
                a.left + opts.keyMarkX, rows[i]);
            c.fill();
        });
        c.restore();
    }
};

function scatter(id, cfg) {
    const el = document.getElementById(id);
    el.width = cfg.w; el.height = cfg.h;
    el.style.width = cfg.w + 'px'; el.style.height = cfg.h + 'px';
    const font = { family: '"Liberation Sans", Arial, sans-serif', size: cfg.font };
    return new Chart(el, {
        type: 'scatter',
        data: {
            datasets: [
                { label: seriesNames[0], data: cfg.n.map(p => ({ x: p[0], y: p[1] })), pointStyle: 'rect',
                  pointRadius: cfg.rectR, pointBorderWidth: 0, backgroundColor: blue, order: 2 },
                { label: seriesNames[1], data: cfg.o.map(p => ({ x: p[0], y: p[1] })), pointStyle: 'rectRot',
                  pointRadius: cfg.rotR, pointBorderWidth: 0, backgroundColor: red, order: 1 }
            ]
        },
        options: {
            responsive: false,
            animation: false,
            layout: { padding: { left: 0, top: cfg.top, right: cfg.w - cfg.left - cfg.areaW, bottom: 0 } },
            plugins: { legend: { display: false }, tooltip: { enabled: false }, frameAndKey: cfg.frame },
            scales: {
                x: {
                    type: 'linear', min: xTicks[0], max: xTicks[xTicks.length - 1],
                    afterBuildTicks: s => { s.ticks = xTicks.map(v => ({ value: v })); },
                    afterFit: s => { s.height = cfg.h - cfg.top - cfg.areaH; },
                    grid: { display: false, drawTicks: false },
                    border: { display: false },
                    ticks: { font, color: '#000', padding: cfg.xPad, labelOffset: cfg.xOff, maxRotation: 0, autoSkip: false }
                },
                y: {
                    type: 'linear', min: cfg.yTicks[0], max: cfg.yTicks[cfg.yTicks.length - 1],
                    afterBuildTicks: s => { s.ticks = cfg.yTicks.map(v => ({ value: v })); },
                    afterFit: s => { s.width = cfg.left; },
                    grid: { display: false, drawTicks: false },
                    border: { display: false },
                    ticks: { font, color: '#000', padding: cfg.yPad, labelOffset: cfg.yOff, autoSkip: false, callback: v => String(v) }
                }
            }
        },
        plugins: [frameAndKey]
    });
}

const bigFrame = { line: 3, tickWidth: 2.5, tick: 16, keyFont: 36, keyY: [35, 73], keyTextX: 1487, keyMarkX: 1571 };
scatter('mainChart', { w: 1900, h: 1500, left: 167, top: 131.5, areaW: 1667, areaH: 1198.5, font: 36.5,
    xPad: 16, xOff: 5, yPad: 22, yOff: 3, yTicks: atTicks, n: atN, o: atO, rectR: 17.7, rotR: 16.5, frame: bigFrame });

scatter('fevChart', { w: 860, h: 660, left: 59, top: 50, areaW: 742, areaH: 534, font: 16,
    xPad: 8, xOff: 2, yPad: 10, yOff: 1, yTicks: fevTicks, n: fevN, o: fevO, rectR: 8.2, rotR: 7,
    frame: { line: 1.5, tickWidth: 1.2, tick: 6, keyFont: 15, keyY: [17, 33], keyTextX: 662, keyMarkX: 699.6 } });

scatter('aexChart', { w: 860, h: 660, left: 59, top: 50, areaW: 741, areaH: 534, font: 16,
    xPad: 8, xOff: 2, yPad: 10, yOff: 1, yTicks: aexTicks, n: aexN, o: aexO, rectR: 8.2, rotR: 7,
    frame: { line: 1.5, tickWidth: 1.2, tick: 6, keyFont: 15, keyY: [17, 33], keyTextX: 661, keyMarkX: 698.5 } });
</script>
</body>
</html>
